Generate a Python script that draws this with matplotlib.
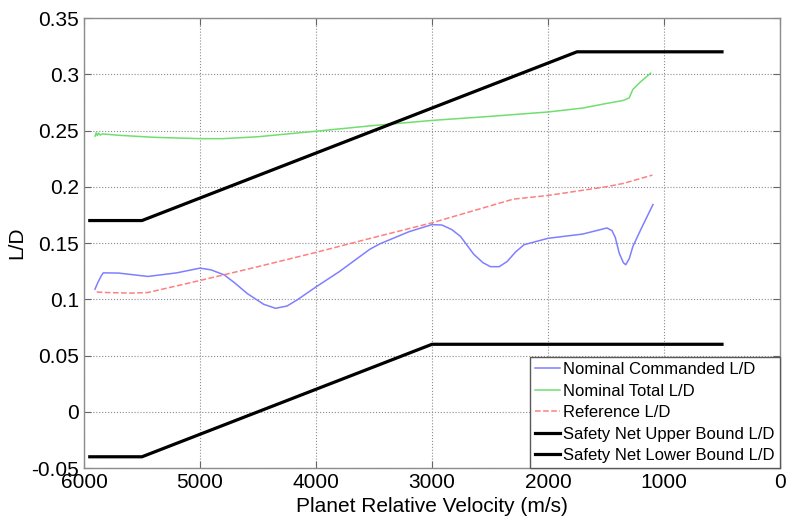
import matplotlib.pyplot as plt
import numpy as np

plt.rcParams['font.family'] = ['Liberation Sans', 'DejaVu Sans']

# Nominal commanded L/D (blue)
cmd_v = [5905, 5880, 5850, 5834, 5700, 5449, 5200, 5000, 4906, 4791, 4700, 4591,
         4450, 4349, 4250, 4163, 4000, 3800, 3534, 3447, 3200, 3000, 2914, 2830,
         2755, 2640, 2560, 2496, 2420, 2352, 2280, 2207, 2000, 1700, 1491, 1448,
         1420, 1386, 1350, 1330, 1300, 1268, 1200, 1167, 1095]
cmd_ld = [0.109, 0.115, 0.121, 0.1235, 0.1233, 0.1203, 0.1235, 0.1277, 0.1262, 0.1217,
          0.1145, 0.105, 0.0955, 0.092, 0.094, 0.0994, 0.111, 0.1245, 0.1446, 0.1494,
          0.160, 0.1664, 0.166, 0.162, 0.156, 0.140, 0.1325, 0.129, 0.129, 0.1336,
          0.142, 0.1485, 0.1542, 0.158, 0.1634, 0.161, 0.155, 0.141, 0.1325, 0.1307,
          0.136, 0.147, 0.162, 0.169, 0.1842]

# Nominal total L/D (green)
tot_v = [5905, 5895, 5885, 5875, 5860, 5840, 5700, 5400, 5000, 4800, 4500, 4000,
         3500, 3000, 2500, 2000, 1700, 1500, 1350, 1300, 1269, 1200, 1115]
tot_ld = [0.245, 0.248, 0.2455, 0.2478, 0.246, 0.247, 0.2458, 0.244, 0.2428, 0.2428,
          0.2445, 0.2494, 0.2545, 0.259, 0.2626, 0.2665, 0.270, 0.274, 0.2768, 0.279,
          0.2865, 0.2935, 0.301]

# Reference L/D (red dashed)
ref_v = [5890, 5800, 5600, 5450, 5000, 4500, 4000, 3500, 3000, 2600, 2300, 2000,
         1500, 1350, 1100]
ref_ld = [0.1065, 0.106, 0.1055, 0.106, 0.1167, 0.129, 0.1417, 0.155, 0.168, 0.180,
          0.189, 0.1923, 0.2, 0.203, 0.2104]

# Safety net bounds
upper_v = [5950, 5500, 1750, 500]
upper_ld = [0.17, 0.17, 0.32, 0.32]
lower_v = [5950, 5500, 3000, 500]
lower_ld = [-0.04, -0.04, 0.06, 0.06]

fig = plt.figure(figsize=(7.87, 5.22), dpi=100)
ax = fig.add_axes([0.1067, 0.1034, 0.8844, 0.862])

ax.plot(cmd_v, cmd_ld, color='#7f7fff', lw=1.1, label='Nominal Commanded L/D')
ax.plot(tot_v, tot_ld, color='#6fdf6f', lw=1.1, label='Nominal Total L/D')
ax.plot(ref_v, ref_ld, color='#ff7f7f', lw=1.1, ls='--', label='Reference L/D')
ax.plot(upper_v, upper_ld, color='black', lw=2.3, label='Safety Net Upper Bound L/D')
ax.plot(lower_v, lower_ld, color='black', lw=2.3, label='Safety Net Lower Bound L/D')

ax.set_xlim(6000, 0)
ax.set_ylim(-0.05, 0.35)
ax.set_xticks(np.arange(6000, -1, -1000))
ax.set_yticks(np.arange(-0.05, 0.351, 0.05))
ax.set_yticklabels(['-0.05', '0', '0.05', '0.1', '0.15', '0.2', '0.25', '0.3', '0.35'])

ax.grid(True, ls=':', color='0.55', lw=0.8)
ax.tick_params(direction='in', top=True, right=True, length=5, labelsize=15, color='0.4')
for s in ax.spines.values():
    s.set_color('0.55')
    s.set_linewidth(1.0)

ax.set_xlabel('Planet Relative Velocity (m/s)', fontsize=15)
ax.set_ylabel('L/D', fontsize=15)

leg = ax.legend(loc='lower right', fontsize=12, borderaxespad=0, handlelength=1.5,
                handletextpad=0.18, labelspacing=0.39, borderpad=0.3,
                fancybox=False, framealpha=1)
leg.get_frame().set_edgecolor('0.35')
leg.get_frame().set_linewidth(1.0)

fig.savefig('out.png', dpi=100)
